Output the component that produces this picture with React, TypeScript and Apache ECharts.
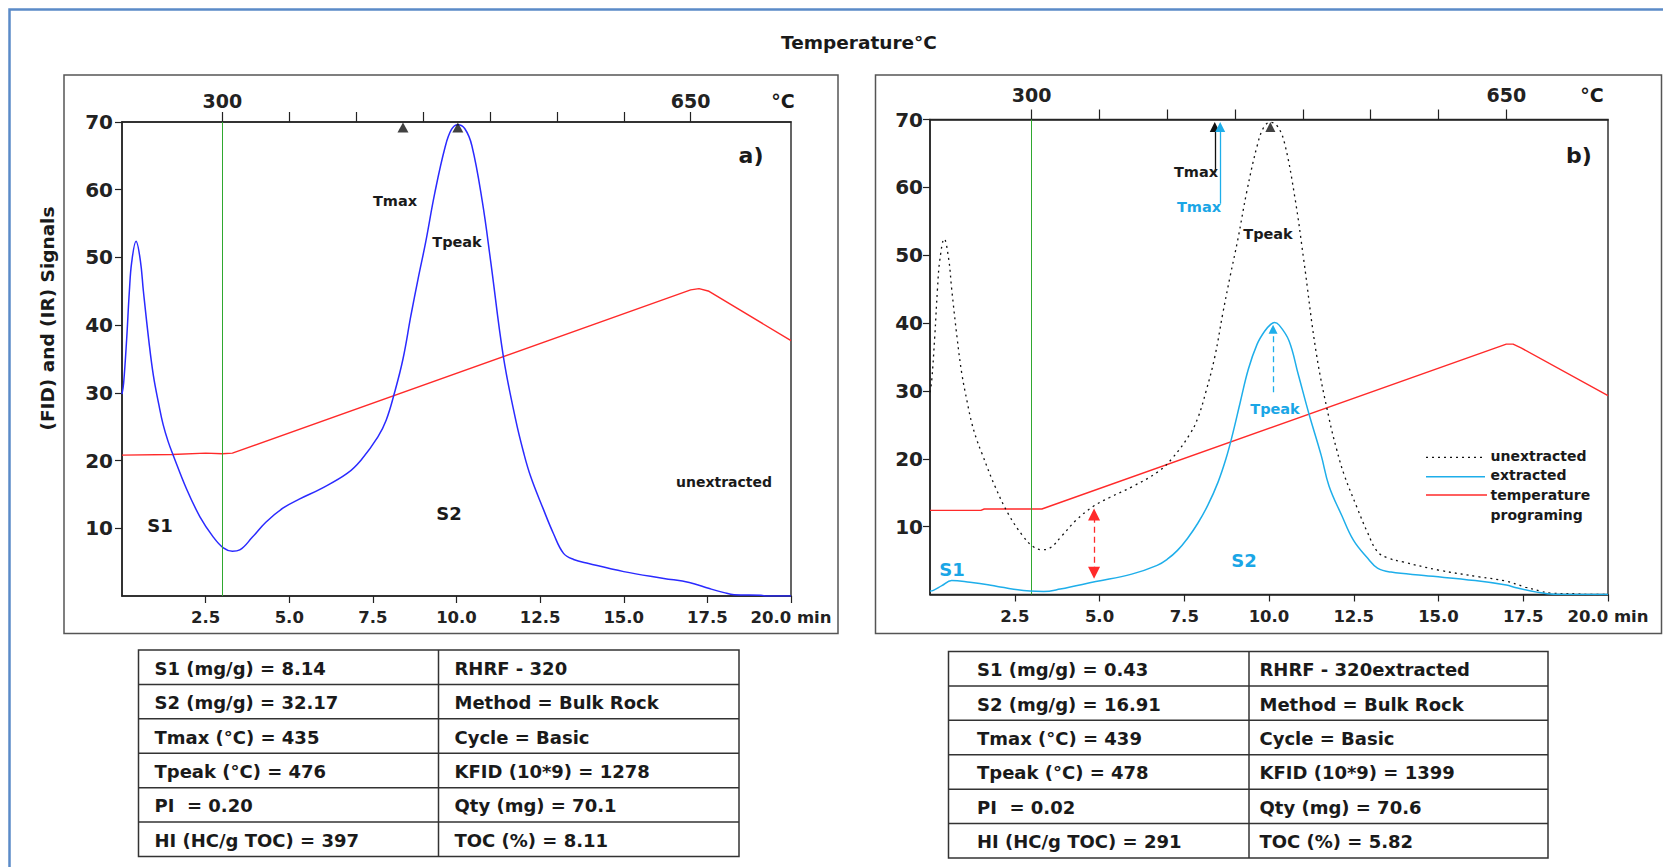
import React, { useEffect, useRef } from 'react';
import * as echarts from 'echarts';

// ---------- axis definitions ----------
const timeTicks = [2.5, 5, 7.5, 10, 12.5, 15, 17.5, 20];
const signalTicks = [10, 20, 30, 40, 50, 60, 70];
const tempTicks = [300, 350, 400, 450, 500, 550, 600, 650];
const tempLabels = [300, 650];
const TEMP_MIN = 225; // °C at t = 0 min on the top temperature scale
const TEMP_MAX = 725; // °C at t = 20 min
const HOLD_END = 3; // min, end of the 300 °C isotherm

// ---------- series (time in min, signal) ----------
const unextracted: [number, number][] = [
  [0, 29.8], [0.05, 31.5], [0.14, 38], [0.22, 45], [0.29, 49.3], [0.42, 52.4], [0.55, 49.5],
  [0.64, 45], [0.8, 37.8], [0.94, 32.5], [1.1, 28.3], [1.23, 25.3], [1.38, 22.8], [1.53, 20.8],
  [1.93, 15.8], [2.33, 11.7], [2.73, 8.7], [3.03, 7.1], [3.3, 6.6], [3.52, 6.8], [3.9, 8.7],
  [4.3, 10.9], [4.82, 13], [5.3, 14.3], [5.97, 15.9], [6.73, 18.1], [7.15, 20.1], [7.65, 23.5],
  [7.9, 26], [8.14, 29.9], [8.4, 35], [8.64, 41.5], [8.85, 46.8], [9.08, 52.3], [9.35, 59.5],
  [9.66, 66.3], [9.85, 68.9], [10.04, 69.6], [10.25, 69], [10.46, 66.5], [10.77, 58.3],
  [11.02, 49.5], [11.4, 35.4], [11.77, 26], [12.0, 21.3], [12.22, 17.6], [12.59, 12.9],
  [12.9, 9.2], [13.2, 6.3], [13.5, 5.4], [13.95, 4.8], [15.0, 3.6], [16.2, 2.6], [16.96, 2.0],
  [17.56, 1.1], [18.0, 0.5], [18.3, 0.2], [19.1, 0.1], [19.3, 0], [20, 0],
];

const extracted: [number, number][] = [
  [0, 0.5], [0.1, 0.6], [0.35, 1.3], [0.64, 2.06], [1.18, 1.8], [1.71, 1.45], [2.07, 1.1],
  [2.95, 0.5], [3.35, 0.45], [3.84, 0.8], [4.89, 1.9], [5.95, 3.0], [6.7, 4.3], [7.0, 5.2],
  [7.3, 6.5], [7.6, 8.3], [7.9, 10.5], [8.2, 13.2], [8.5, 16.6], [8.73, 20.0], [8.91, 23.3],
  [9.15, 28.3], [9.39, 33.2], [9.65, 36.9], [9.87, 38.8], [10.05, 39.8], [10.16, 40.1],
  [10.3, 39.7], [10.59, 37.4], [10.86, 32.5], [11.18, 26.6], [11.54, 20.5], [11.77, 16.0],
  [12.15, 11.6], [12.49, 8.0], [12.9, 5.4], [13.2, 3.9], [13.6, 3.3], [14.57, 2.8], [16.08, 2.06],
  [17.0, 1.4], [17.29, 1.0], [17.9, 0.35], [18.4, 0.05], [20, 0],
];

const tempProgA: [number, number][] = [
  [0, 20.8], [1.5, 20.9], [2.5, 21.1], [3.0, 21.0], [3.3, 21.1], [17.0, 45.2], [17.25, 45.4],
  [17.55, 45.0], [20, 37.7],
];

const tempProgB: [number, number][] = [
  [0, 12.4], [1.5, 12.4], [1.6, 12.6], [3.3, 12.6], [17.0, 36.9], [17.2, 36.9], [17.45, 36.3],
  [20, 29.3],
];

// ---------- Rock-Eval markers (°C) ----------
const tmaxA = 435;
const tpeakA = 476;
const tmaxB = 439;
const tpeakB = 478;

// ---------- tables ----------
const tableA: [string, string][] = [
  ['S1 (mg/g) = 8.14', 'RHRF - 320'],
  ['S2 (mg/g) = 32.17', 'Method = Bulk Rock'],
  ['Tmax (°C) = 435', 'Cycle = Basic'],
  ['Tpeak (°C) = 476', 'KFID (10*9) = 1278'],
  ['PI  = 0.20', 'Qty (mg) = 70.1'],
  ['HI (HC/g TOC) = 397', 'TOC (%) = 8.11'],
];
const tableB: [string, string][] = [
  ['S1 (mg/g) = 0.43', 'RHRF - 320extracted'],
  ['S2 (mg/g) = 16.91', 'Method = Bulk Rock'],
  ['Tmax (°C) = 439', 'Cycle = Basic'],
  ['Tpeak (°C) = 478', 'KFID (10*9) = 1399'],
  ['PI  = 0.02', 'Qty (mg) = 70.6'],
  ['HI (HC/g TOC) = 291', 'TOC (%) = 5.82'],
];

const FONT = 'DejaVu Sans';
const INK = '#1a1a1a';
const BLUE = '#2a2aff';
const SKY = '#1eaeea';
const SKY_TEXT = '#1aa6e6';
const RED = '#ff2a2a';
const GREEN = '#2fa82f';

function timeAxis(gridIndex: number, margin: number) {
  return {
    type: 'value', gridIndex, position: 'bottom', min: 0, max: 20, interval: 2.5,
    axisLine: { show: true, onZero: false, lineStyle: { color: '#222', width: 1.5 } },
    axisTick: { show: true, customValues: timeTicks, length: 7, lineStyle: { color: '#222', width: 1.2 } },
    axisLabel: {
      show: true, customValues: timeTicks, margin, hideOverlap: false,
      formatter: (v: number) => (v === 20 ? '20.0 min' : v.toFixed(1)),
      color: '#222', fontFamily: FONT, fontWeight: 'bold', fontSize: 16.5,
    },
    splitLine: { show: false },
  };
}

function tempAxis(gridIndex: number, margin: number) {
  return {
    type: 'value', gridIndex, position: 'top', min: TEMP_MIN, max: TEMP_MAX,
    axisLine: { show: true, onZero: false, lineStyle: { color: '#222', width: 1.5 } },
    axisTick: { show: true, customValues: tempTicks, length: 10, lineStyle: { color: '#222', width: 1.2 } },
    axisLabel: {
      show: true, customValues: tempLabels, margin, hideOverlap: false,
      color: '#222', fontFamily: FONT, fontWeight: 'bold', fontSize: 19,
    },
    splitLine: { show: false },
  };
}

function signalAxis(gridIndex: number, margin: number) {
  return {
    type: 'value', gridIndex, min: 0, max: 70, interval: 10,
    axisLine: { show: true, onZero: false, lineStyle: { color: '#222', width: 1.5 } },
    axisTick: { show: true, customValues: signalTicks, length: 7, lineStyle: { color: '#222', width: 1.2 } },
    axisLabel: {
      show: true, customValues: signalTicks, margin, hideOverlap: false,
      color: '#222', fontFamily: FONT, fontWeight: 'bold', fontSize: 20,
    },
    splitLine: { show: false },
  };
}

function txt(text: string, x: number, y: number, size: number, fill = INK, align = 'center', extra: any = {}) {
  return {
    type: 'text', x, y, z: 50, ...extra,
    style: { text, fill, fontFamily: FONT, fontWeight: 'bold', fontSize: size, align, verticalAlign: 'middle' },
  };
}

function hline(x1: number, y1: number, x2: number, y2: number, stroke: string, lineWidth: number, lineDash?: number[]) {
  return { type: 'line', z: 50, shape: { x1, y1, x2, y2 }, style: { stroke, lineWidth, lineDash } };
}

function table(rows: [string, string][], x0: number, x1: number, xm: number, y0: number, y1: number, tx0: number, tx1: number) {
  const els: any[] = [];
  const h = (y1 - y0) / rows.length;
  els.push({ type: 'rect', z: 40, shape: { x: x0, y: y0, width: x1 - x0, height: y1 - y0 }, style: { fill: 'none', stroke: '#333', lineWidth: 1.5 } });
  for (let i = 1; i < rows.length; i++) els.push(hline(x0, y0 + i * h, x1, y0 + i * h, '#333', 1.5));
  els.push(hline(xm, y0, xm, y1, '#333', 1.5));
  rows.forEach((r, i) => {
    const cy = y0 + (i + 0.5) * h + 1;
    els.push(txt(r[0], tx0, cy, 18, INK, 'left'));
    els.push(txt(r[1], tx1, cy, 18, INK, 'left'));
  });
  return els;
}

function arrow(xAxisIndex: number, yAxisIndex: number, from: [number, number], to: [number, number], color: string, both: boolean, dashed: boolean, size: number) {
  return {
    type: 'lines', coordinateSystem: 'cartesian2d', xAxisIndex, yAxisIndex, silent: true, z: 6,
    symbol: [both ? 'triangle' : 'none', 'triangle'], symbolSize: size,
    lineStyle: { color, width: 1.3, opacity: 1, curveness: 0, type: dashed ? [6, 4] : 'solid' },
    itemStyle: { color },
    data: [{ coords: [from, to] }],
  };
}

export default function App() {
  const ref = useRef<HTMLDivElement>(null);
  useEffect(() => {
    if (!ref.current) return;
    const chart = echarts.init(ref.current, undefined, { renderer: 'svg' });
    const greenMark = {
      silent: true, symbol: 'none', label: { show: false },
      lineStyle: { color: GREEN, width: 1, type: 'solid' },
      data: [{ xAxis: HOLD_END }],
    };
    const option: any = {
      animation: false,
      backgroundColor: '#fff',
      grid: [
        { left: 122, top: 122, width: 669, height: 474, show: true, borderColor: '#333', borderWidth: 1.5, containLabel: false },
        { left: 930, top: 119.5, width: 678, height: 475, show: true, borderColor: '#333', borderWidth: 1.5, containLabel: false },
      ],
      xAxis: [timeAxis(0, 13), tempAxis(0, 12), timeAxis(1, 13), tempAxis(1, 15)],
      yAxis: [signalAxis(0, 9), signalAxis(1, 7)],
      series: [
        // ----- panel a -----
        {
          name: 'unextracted', type: 'line', xAxisIndex: 0, yAxisIndex: 0, data: unextracted,
          showSymbol: false, smooth: 0.4, z: 4,
          lineStyle: { color: BLUE, width: 1.5 }, itemStyle: { color: BLUE },
          markLine: greenMark,
        },
        {
          name: 'temperature programing', type: 'line', xAxisIndex: 0, yAxisIndex: 0, data: tempProgA,
          showSymbol: false, smooth: false, z: 3,
          lineStyle: { color: RED, width: 1.4 }, itemStyle: { color: RED },
        },
        {
          name: 'Tmax / Tpeak (a)', type: 'scatter', xAxisIndex: 1, yAxisIndex: 0,
          data: [[tmaxA, 69.2], [tpeakA, 69.2]], symbol: 'triangle', symbolSize: [11, 10], z: 7,
          itemStyle: { color: '#111' },
        },
        // ----- panel b -----
        {
          name: 'unextracted', type: 'line', xAxisIndex: 2, yAxisIndex: 1, data: unextracted,
          showSymbol: false, smooth: 0.4, z: 4,
          lineStyle: { color: '#111', width: 1.3, type: [2, 4] }, itemStyle: { color: '#111' },
          markLine: greenMark,
        },
        {
          name: 'extracted', type: 'line', xAxisIndex: 2, yAxisIndex: 1, data: extracted,
          showSymbol: false, smooth: 0.4, z: 5,
          lineStyle: { color: SKY, width: 1.5 }, itemStyle: { color: SKY },
        },
        {
          name: 'temperature programing', type: 'line', xAxisIndex: 2, yAxisIndex: 1, data: tempProgB,
          showSymbol: false, smooth: false, z: 3,
          lineStyle: { color: RED, width: 1.4 }, itemStyle: { color: RED },
        },
        {
          name: 'Tpeak (b)', type: 'scatter', xAxisIndex: 3, yAxisIndex: 1,
          data: [[tpeakA, 68.9]], symbol: 'triangle', symbolSize: [10, 10], z: 7,
          itemStyle: { color: '#111' },
        },
        arrow(3, 1, [tmaxA, 62.2], [tmaxA, 68.9], '#111', false, false, 10),
        arrow(3, 1, [tmaxB, 57.6], [tmaxB, 68.9], SKY, false, false, 10),
        arrow(3, 1, [tpeakB, 29.8], [tpeakB, 39.1], SKY, false, true, 9),
        arrow(2, 1, [4.84, 3.2], [4.84, 11.8], RED, true, true, 12),
      ],
      graphic: [
        { type: 'rect', z: 1, shape: { x: 9.5, y: 9.5, width: 1700, height: 900 }, style: { fill: 'none', stroke: '#5b8bc8', lineWidth: 2.5 } },
        { type: 'rect', z: 1, shape: { x: 64, y: 75, width: 774, height: 558.5 }, style: { fill: 'none', stroke: '#555', lineWidth: 1.5 } },
        { type: 'rect', z: 1, shape: { x: 875.5, y: 75, width: 786, height: 558.5 }, style: { fill: 'none', stroke: '#555', lineWidth: 1.5 } },
        txt('Temperature°C', 859, 42.5, 18.5),
        txt('(FID) and (IR) Signals', 47, 318.5, 18.5, INK, 'center', { rotation: Math.PI / 2 }),
        txt('°C', 783, 100.5, 19),
        txt('°C', 1592, 95, 19),
        // panel a annotations
        txt('Tmax', 395, 201, 14.5),
        txt('Tpeak', 457, 242, 14.5),
        txt('S1', 160, 525, 18),
        txt('S2', 449, 513, 18),
        txt('unextracted', 724, 482, 14),
        txt('a)', 751, 155, 22),
        // panel b annotations
        txt('Tmax', 1196, 172, 14.5),
        txt('Tmax', 1199, 207, 14.5, SKY_TEXT),
        txt('Tpeak', 1268, 234, 14.5),
        txt('Tpeak', 1275, 409, 14.5, SKY_TEXT),
        txt('S1', 952, 569, 18, SKY_TEXT),
        txt('S2', 1244, 560, 18, SKY_TEXT),
        txt('b)', 1579, 155, 22),
        // legend of panel b
        hline(1426, 457.3, 1482, 457.3, '#111', 1.3, [2, 4]),
        hline(1426, 476.7, 1485, 476.7, SKY, 1.5),
        hline(1426, 495, 1487, 495, RED, 1.5),
        txt('unextracted', 1490.5, 455.5, 14, INK, 'left'),
        txt('extracted', 1490.5, 475, 14, INK, 'left'),
        txt('temperature', 1490.5, 494.5, 14, INK, 'left'),
        txt('programing', 1490.5, 514.5, 14, INK, 'left'),
        ...table(tableA, 138.5, 739, 438.5, 650, 856.5, 154.5, 454.5),
        ...table(tableB, 948.5, 1548, 1249, 651.5, 858, 977, 1259.5),
      ],
    };
    chart.setOption(option);
    return () => chart.dispose();
  }, []);
  return <div ref={ref} style={{ position: 'fixed', left: 0, top: 0, width: 1663, height: 867, background: '#fff' }} />;
}
